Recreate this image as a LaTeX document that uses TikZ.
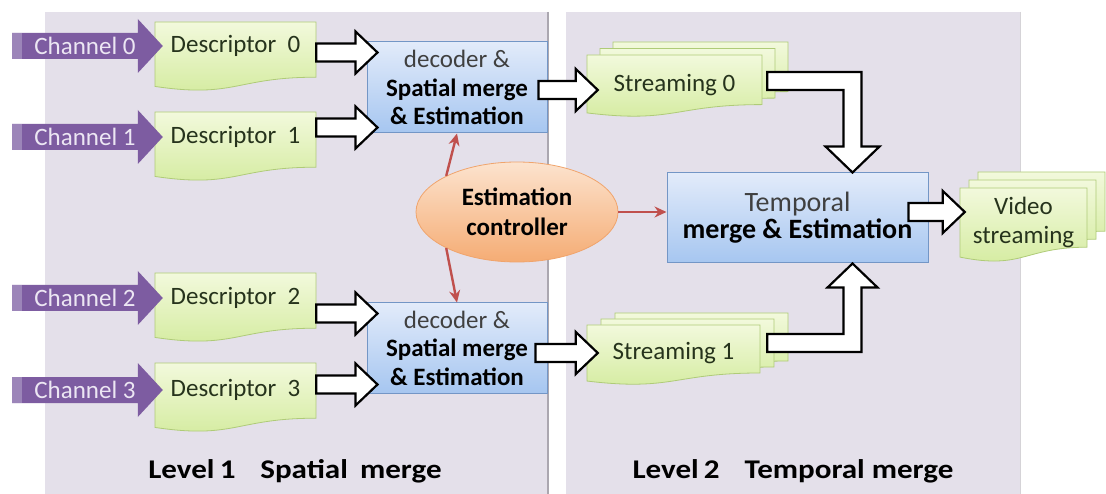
\documentclass[tikz,border=0pt]{standalone}
\usepackage{fontspec}
\setmainfont{Carlito}
\usetikzlibrary{calc,arrows.meta,shapes.geometric}

\definecolor{panelbg}{HTML}{E4E0EA}
\definecolor{panelline}{HTML}{ABA7B0}
\definecolor{docborder}{HTML}{AFCB78}
\definecolor{doctop}{HTML}{F2F9DC}
\definecolor{docbot}{HTML}{D3EB9D}
\definecolor{boxtop}{HTML}{E2EBFA}
\definecolor{boxbot}{HTML}{A6C6F0}
\definecolor{boxline}{HTML}{7396C6}
\definecolor{elltop}{HTML}{FCE3CE}
\definecolor{ellbot}{HTML}{F5AC74}
\definecolor{ellline}{HTML}{F0A46C}
\definecolor{chanfill}{HTML}{7D5CA1}
\definecolor{chanstrip}{HTML}{9C85B9}
\definecolor{chantext}{HTML}{ECE6F3}
\definecolor{ctrlred}{HTML}{C0504D}
\definecolor{doctext}{HTML}{26331C}
\definecolor{greytext}{HTML}{404040}

\tikzset{
  panel/.style={fill=panelbg},
  docshape/.style={top color=doctop, bottom color=docbot, draw=docborder, line width=0.8pt},
  doclabel/.style={inner sep=0pt, minimum height=26pt, text=doctext,
    font=\fontsize{25}{29}\selectfont, align=center},
  chanbody/.style={fill=chanfill},
  chanlabel/.style={inner sep=0pt, text=chantext, font=\fontsize{25}{28}\selectfont},
  mergebox/.style={rectangle, top color=boxtop, bottom color=boxbot, draw=boxline,
    line width=1pt, align=center, inner sep=0pt, text=black},
  blockarrow/.style={fill=white, draw=black, line width=2.2pt, line join=miter},
  ctrl/.style={draw=ctrlred, line width=2.4pt, -{Stealth[length=12pt,width=11pt]}},
  ctrlnode/.style={ellipse, top color=elltop, bottom color=ellbot, draw=ellline,
    line width=0.8pt, align=center, inner sep=0pt,
    font=\fontsize{25}{30}\selectfont\bfseries},
  levellabel/.style={font=\fontsize{27}{30}\selectfont\bfseries, text=black,
    inner sep=0pt, anchor=base, xscale=1.15, transform shape}
}

% wavy-bottomed document sheet: left, top, width, height
\newcommand\docsheet[4]{%
  \path[docshape] (#1,#2) -- ({#1+#3},#2) -- ({#1+#3},{#2+0.80*#4})
    .. controls ({#1+0.5*#3},{#2+0.80*#4}) and ({#1+0.5*#3},{#2+1.107*#4})
    .. (#1,{#2+0.934*#4}) -- cycle;}
% three stacked sheets: left, top, width, height, dx, dy
\newcommand\docstack[6]{%
  \docsheet{#1+2*#5}{#2+2*#6}{#3}{#4}%
  \docsheet{#1+#5}{#2+#6}{#3}{#4}%
  \docsheet{#1}{#2}{#3}{#4}}

% horizontal hollow block arrow from #1 to the x of #2
\newcommand\harrow[2]{%
  \path[blockarrow] let \p1=(#1), \p2=(#2) in
    (\x1,{\y1+9pt}) -- ({\x2-22pt},{\y1+9pt}) -- ({\x2-22pt},{\y1+21pt}) -- (\x2,\y1)
    -- ({\x2-22pt},{\y1-21pt}) -- ({\x2-22pt},{\y1-9pt}) -- (\x1,{\y1-9pt}) -- cycle;}
% elbow block arrow: right from #1, then down to #2
\newcommand\elbowdown[2]{%
  \path[blockarrow] let \p1=(#1), \p2=(#2) in
    (\x1,{\y1+9pt}) -- ({\x2+9pt},{\y1+9pt}) -- ({\x2+9pt},{\y2+26pt}) -- ({\x2+27pt},{\y2+26pt})
    -- (\x2,\y2) -- ({\x2-27pt},{\y2+26pt}) -- ({\x2-9pt},{\y2+26pt}) -- ({\x2-9pt},{\y1-9pt})
    -- (\x1,{\y1-9pt}) -- cycle;}
% elbow block arrow: right from #1, then up to #2
\newcommand\elbowup[2]{%
  \path[blockarrow] let \p1=(#1), \p2=(#2) in
    (\x1,{\y1-9pt}) -- ({\x2+9pt},{\y1-9pt}) -- ({\x2+9pt},{\y2-24pt}) -- ({\x2+25pt},{\y2-24pt})
    -- (\x2,\y2) -- ({\x2-25pt},{\y2-24pt}) -- ({\x2-9pt},{\y2-24pt}) -- ({\x2-9pt},{\y1+9pt})
    -- (\x1,{\y1+9pt}) -- cycle;}
% purple channel arrow from #1 to tip #2
\newcommand\chanarrow[2]{%
  \path[chanbody] let \p1=(#1), \p2=(#2) in
    (\x1,{\y1+13pt}) -- ({\x2-25pt},{\y1+13pt}) -- ({\x2-25pt},{\y1+27pt}) -- (\x2,\y1)
    -- ({\x2-25pt},{\y1-27pt}) -- ({\x2-25pt},{\y1-13pt}) -- (\x1,{\y1-13pt}) -- cycle;
  \path[fill=chanstrip] let \p1=(#1) in (\x1,{\y1-13pt}) rectangle ({\x1+10pt},{\y1+13pt});}

\begin{document}
\begin{tikzpicture}[x=1pt,y=-1pt]
  \useasboundingbox (0,0) rectangle (1106,494);
  \fill[white] (0,0) rectangle (1106,494);

  % two level panels
  \fill[panel] (45,12) rectangle (548,494);
  \fill[panel] (566,12) rectangle (1020,494);
  \draw[panelline, line width=2pt] (548,12) -- (548,494);
  \draw[panelline!50, line width=1pt] (1020,12) -- (1020,494);

  % descriptors
  \docsheet{155}{22}{161}{69}
  \docsheet{155}{112}{161}{69}
  \docsheet{155}{273}{161}{69}
  \docsheet{155}{363}{161}{69}
  \node[doclabel, minimum width=161pt] (d0) at (235.5,46) {Descriptor\ \ 0};
  \node[doclabel, minimum width=161pt] (d1) at (235.5,137) {Descriptor\ \ 1};
  \node[doclabel, minimum width=161pt] (d2) at (235.5,298) {Descriptor\ \ 2};
  \node[doclabel, minimum width=161pt] (d3) at (235.5,390) {Descriptor\ \ 3};

  % channel inputs
  \coordinate (c0) at (12,46);
  \coordinate (c1) at (12,137);
  \coordinate (c2) at (12,298);
  \coordinate (c3) at (12,390);
  \chanarrow{c0}{$(d0.west)+(8,0)$}
  \chanarrow{c1}{$(d1.west)+(8,0)$}
  \chanarrow{c2}{$(d2.west)+(8,0)$}
  \chanarrow{c3}{$(d3.west)+(8,0)$}
  \node[chanlabel] (ch0) at (85,46) {Channel 0};
  \node[chanlabel] (ch1) at (85,137) {Channel 1};
  \node[chanlabel] (ch2) at (85,298) {Channel 2};
  \node[chanlabel] (ch3) at (85,390) {Channel 3};

  % spatial merge boxes
  \node[mergebox, minimum width=180pt, minimum height=91pt,
        font=\fontsize{25}{28.5}\selectfont] (dec1) at (457,87.5)
    {\textcolor{greytext}{decoder \&}\\\textbf{Spatial merge}\\\textbf{\& Estimation}};
  \node[mergebox, minimum width=180pt, minimum height=90pt,
        font=\fontsize{25}{28.5}\selectfont] (dec2) at (457,348)
    {\textcolor{greytext}{decoder \&}\\\textbf{Spatial merge}\\\textbf{\& Estimation}};

  % descriptor -> spatial merge
  \coordinate (a0) at ($(dec1.north west)+(11,11)$);
  \coordinate (a1) at ($(dec1.south west)+(11,-6)$);
  \coordinate (a2) at ($(dec2.north west)+(11,11)$);
  \coordinate (a3) at ($(dec2.south west)+(11,-9)$);
  \harrow{d0.east |- a0}{a0}
  \harrow{d1.east |- a1}{a1}
  \harrow{d2.east |- a2}{a2}
  \harrow{d3.east |- a3}{a3}

  % streams after spatial merge
  \docstack{587}{55}{175}{62}{13}{-6.5}
  \node[doclabel, minimum width=175pt] (s0) at (674.5,85) {Streaming 0};
  \docstack{587}{325}{173}{60}{14}{-6}
  \node[doclabel, minimum width=173pt] (s1) at (673.5,353) {Streaming 1};
  \harrow{$(dec1.east)+(-9,2.5)$}{$(s0.west)+(11,0)$}
  \harrow{$(dec2.east)+(-12,5)$}{$(s1.west)+(11,0)$}

  % temporal merge
  \node[mergebox, minimum width=261pt, minimum height=90pt,
        font=\fontsize{28}{27}\selectfont] (tmp) at (797.5,218)
    {\textcolor{greytext}{Temporal}\\\textbf{merge \& Estimation}};

  % streams -> temporal merge
  \coordinate (e0) at ($(s0.east)+(5,-4)$);
  \coordinate (e1) at ($(s1.east)+(7,-10)$);
  \coordinate (t0) at ($(tmp.north west)!0.71!(tmp.north east)$);
  \coordinate (t1) at ($(tmp.south west)!0.71!(tmp.south east)$);
  \elbowdown{e0}{t0}
  \elbowup{e1}{t1}

  % output
  \docstack{960}{188}{127}{74}{9}{-8}
  \node[doclabel, minimum width=127pt] (vid) at (1023.5,222) {Video\\streaming};
  \harrow{$(tmp.east)+(-20,-6)$}{$(vid.west)+(5,0)$}

  % estimation controller
  \node[ctrlnode, minimum width=202pt, minimum height=100pt] (ell) at (517,212)
    {Estimation\\controller};
  \draw[ctrl] (ell.153) -- (dec1.south);
  \draw[ctrl] (ell.207) -- (dec2.north);
  \draw[ctrl] (ell.east) -- (tmp.west |- ell.east);

  % level captions
  \node[levellabel] (lv1) at (295,478) {Level\,1\hspace{0.8em}Spatial\, merge};
  \node[levellabel] (lv2) at (793,478) {Level\,2\hspace{0.8em}Temporal merge};
\end{tikzpicture}
\end{document}
